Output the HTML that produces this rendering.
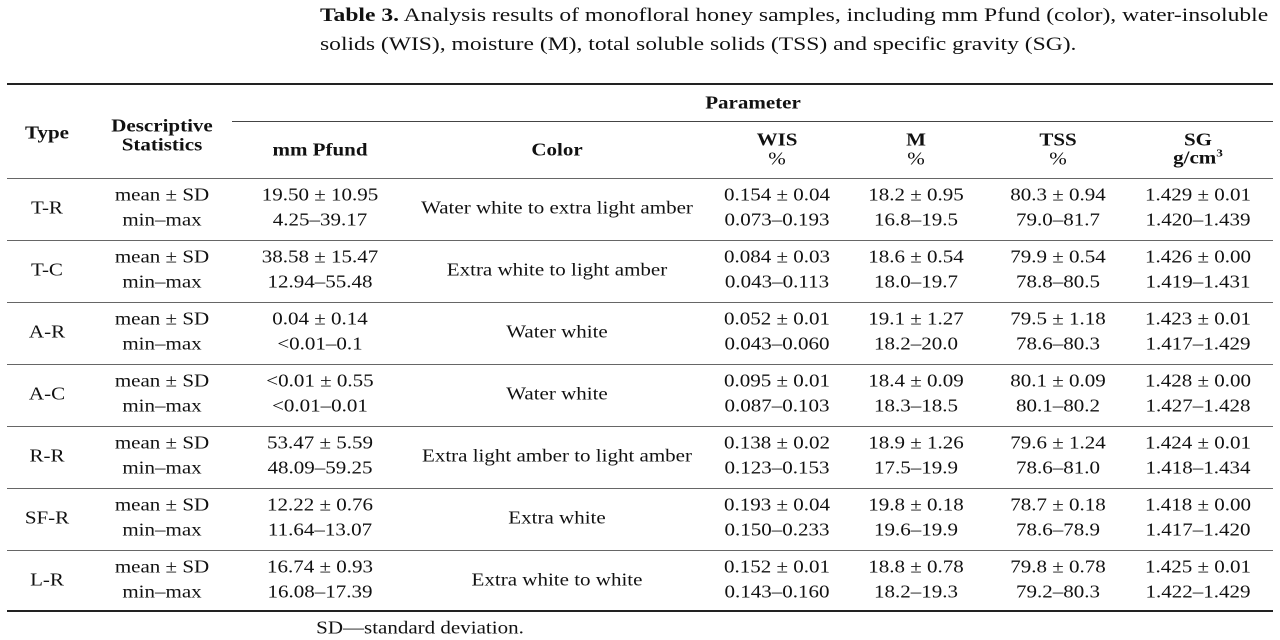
<!DOCTYPE html>
<html><head><style>
body{margin:0;width:1280px;height:640px;background:#fff;position:relative;font-family:"Liberation Serif",serif;color:#111;overflow:hidden}
.t{position:absolute;white-space:nowrap;font-size:17.5px;transform:translate(-50%,-50%) scaleX(1.2)}
.b{font-weight:bold}
.l{position:absolute;background:#222}
.cap{position:absolute;left:320px;font-size:19px;white-space:nowrap;transform:scaleX(1.24);transform-origin:0 0}
</style></head><body>
<div class="cap" style="top:5px"><b>Table 3.</b> Analysis results of monofloral honey samples, including mm Pfund (color), water-insoluble</div>
<div class="cap" style="top:34px">solids (WIS), moisture (M), total soluble solids (TSS) and specific gravity (SG).</div>
<div class="l" style="left:7px;width:1266px;top:83px;height:2px"></div>
<div class="l" style="left:232px;width:1041px;top:121px;height:1px;background:#444"></div>
<div class="l" style="left:7px;width:1266px;top:178px;height:1px;background:#666"></div>
<div class="l" style="left:7px;width:1266px;top:610px;height:2px"></div>
<div class="t b" style="left:753px;top:103px">Parameter</div>
<div class="t b" style="left:47px;top:133px">Type</div>
<div class="t b" style="left:162px;top:126px">Descriptive</div>
<div class="t b" style="left:162px;top:145px">Statistics</div>
<div class="t b" style="left:320px;top:150px">mm Pfund</div>
<div class="t b" style="left:557px;top:150px">Color</div>
<div class="t b" style="left:777px;top:140px">WIS</div><div class="t" style="left:777px;top:159px">%</div>
<div class="t b" style="left:916px;top:140px">M</div><div class="t" style="left:916px;top:159px">%</div>
<div class="t b" style="left:1058px;top:140px">TSS</div><div class="t" style="left:1058px;top:159px">%</div>
<div class="t b" style="left:1198px;top:140px">SG</div><div class="t b" style="left:1198px;top:158px">g/cm<sup style="font-size:11px">3</sup></div>
<div id="rows"></div>
<div class="t" style="left:420px;top:628px">SD—standard deviation.</div>
<script>
var d=[["T-R","19.50 ± 10.95","4.25–39.17","Water white to extra light amber","0.154 ± 0.04","0.073–0.193","18.2 ± 0.95","16.8–19.5","80.3 ± 0.94","79.0–81.7","1.429 ± 0.01","1.420–1.439"],
["T-C","38.58 ± 15.47","12.94–55.48","Extra white to light amber","0.084 ± 0.03","0.043–0.113","18.6 ± 0.54","18.0–19.7","79.9 ± 0.54","78.8–80.5","1.426 ± 0.00","1.419–1.431"],
["A-R","0.04 ± 0.14","&lt;0.01–0.1","Water white","0.052 ± 0.01","0.043–0.060","19.1 ± 1.27","18.2–20.0","79.5 ± 1.18","78.6–80.3","1.423 ± 0.01","1.417–1.429"],
["A-C","&lt;0.01 ± 0.55","&lt;0.01–0.01","Water white","0.095 ± 0.01","0.087–0.103","18.4 ± 0.09","18.3–18.5","80.1 ± 0.09","80.1–80.2","1.428 ± 0.00","1.427–1.428"],
["R-R","53.47 ± 5.59","48.09–59.25","Extra light amber to light amber","0.138 ± 0.02","0.123–0.153","18.9 ± 1.26","17.5–19.9","79.6 ± 1.24","78.6–81.0","1.424 ± 0.01","1.418–1.434"],
["SF-R","12.22 ± 0.76","11.64–13.07","Extra white","0.193 ± 0.04","0.150–0.233","19.8 ± 0.18","19.6–19.9","78.7 ± 0.18","78.6–78.9","1.418 ± 0.00","1.417–1.420"],
["L-R","16.74 ± 0.93","16.08–17.39","Extra white to white","0.152 ± 0.01","0.143–0.160","18.8 ± 0.78","18.2–19.3","79.8 ± 0.78","79.2–80.3","1.425 ± 0.01","1.422–1.429"]];
var h="";
function t(x,y,s){return '<div class="t" style="left:'+x+'px;top:'+y+'px">'+s+'</div>';}
d.forEach(function(r,i){var y=178+62*i,a=y+17,b=y+42,c=y+30;
h+=t(47,c,r[0])+t(162,a,"mean ± SD")+t(162,b,"min–max")+t(320,a,r[1])+t(320,b,r[2])+t(557,c,r[3])
+t(777,a,r[4])+t(777,b,r[5])+t(916,a,r[6])+t(916,b,r[7])+t(1058,a,r[8])+t(1058,b,r[9])+t(1198,a,r[10])+t(1198,b,r[11]);
if(i<6)h+='<div class="l" style="left:7px;width:1266px;top:'+(y+62)+'px;height:1px;background:#666"></div>';});
document.getElementById("rows").innerHTML=h;
</script>
</body></html>
